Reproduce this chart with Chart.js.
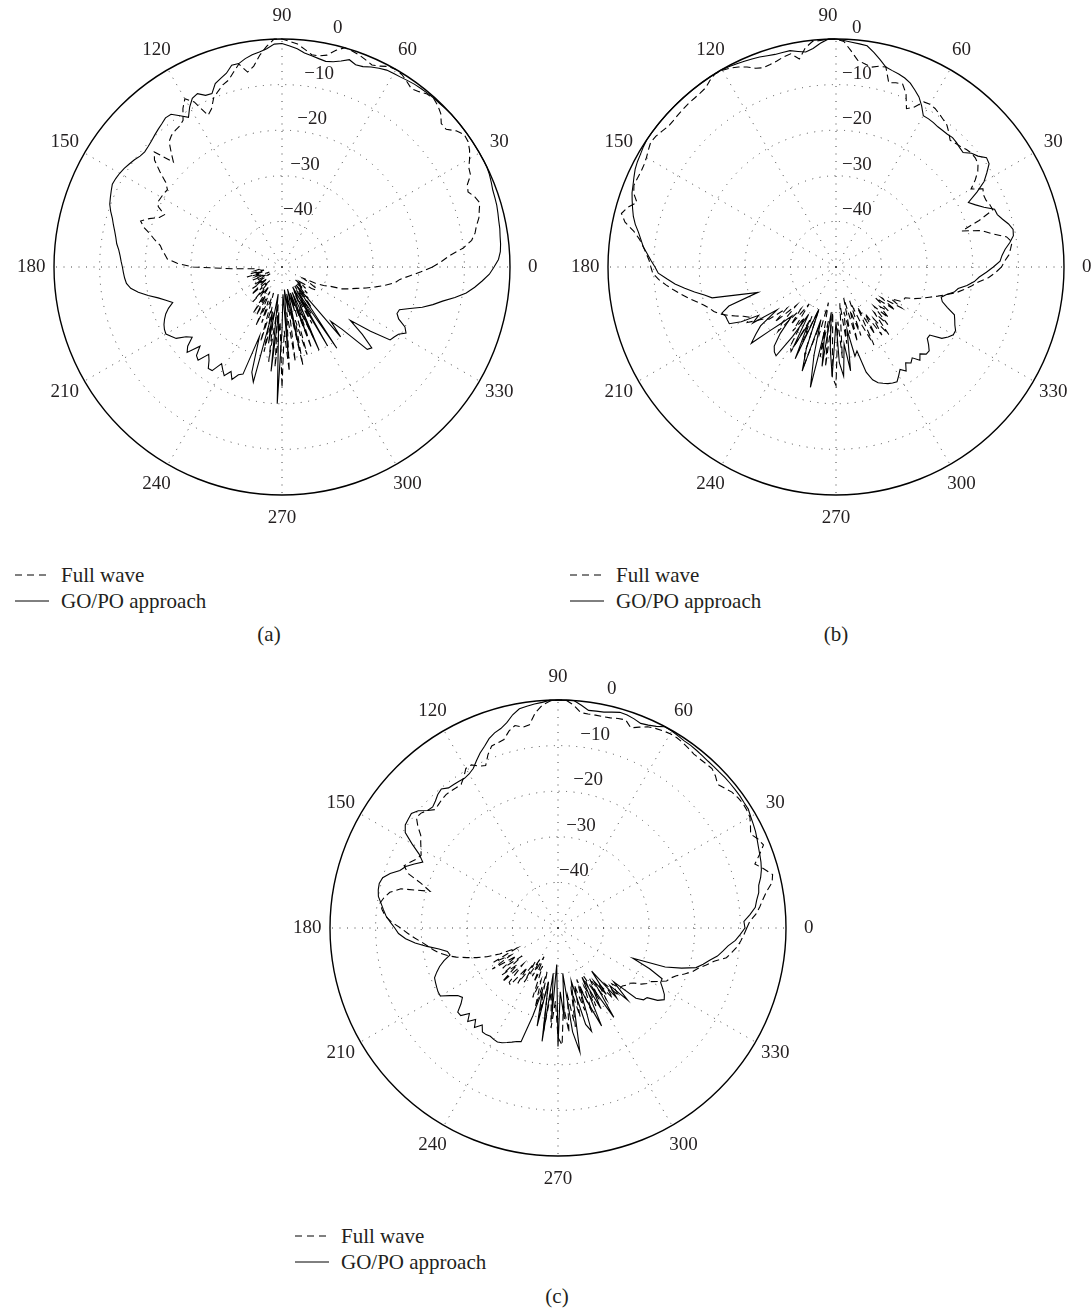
<!DOCTYPE html>
<html>
<head>
<meta charset="utf-8">
<script src="https://cdn.jsdelivr.net/npm/chart.js@4.4.0/dist/chart.umd.min.js"></script>
<style>
  html, body { margin: 0; padding: 0; background: #fff; }
  #page { position: relative; width: 1092px; height: 1314px; overflow: hidden;
          font-family: "Liberation Serif", "DejaVu Serif", serif; color: #231f20; }
  canvas { position: absolute; }
  .leg { position: absolute; font-size: 21px; line-height: 24px; white-space: nowrap; }
  .leg svg { position: absolute; left: 0; top: 7px; }
  .leg span { position: absolute; left: 46px; top: 0; }
  .cap { position: absolute; width: 60px; text-align: center; font-size: 21px; line-height: 24px; }
</style>
</head>
<body>
<div id="page">
  <canvas id="chartA" width="536" height="536" style="left:14px; top:-1px"></canvas>
  <canvas id="chartB" width="536" height="536" style="left:568px; top:-1px"></canvas>
  <canvas id="chartC" width="536" height="536" style="left:290px; top:660px"></canvas>

  <div class="leg" style="left:15px; top:563px; width:240px; height:60px">
    <svg width="34" height="10"><line x1="0" y1="5" x2="34" y2="5" stroke="#000" stroke-width="1" stroke-dasharray="7 5"/></svg>
    <span>Full wave</span>
    <svg width="34" height="10" style="top:33px"><line x1="0" y1="5" x2="34" y2="5" stroke="#000" stroke-width="1"/></svg>
    <span style="top:26px">GO/PO approach</span>
  </div>
  <div class="cap" style="left:239px; top:622px">(a)</div>

  <div class="leg" style="left:570px; top:563px; width:240px; height:60px">
    <svg width="34" height="10"><line x1="0" y1="5" x2="34" y2="5" stroke="#000" stroke-width="1" stroke-dasharray="7 5"/></svg>
    <span>Full wave</span>
    <svg width="34" height="10" style="top:33px"><line x1="0" y1="5" x2="34" y2="5" stroke="#000" stroke-width="1"/></svg>
    <span style="top:26px">GO/PO approach</span>
  </div>
  <div class="cap" style="left:806px; top:622px">(b)</div>

  <div class="leg" style="left:295px; top:1224px; width:240px; height:60px">
    <svg width="34" height="10"><line x1="0" y1="5" x2="34" y2="5" stroke="#000" stroke-width="1" stroke-dasharray="7 5"/></svg>
    <span>Full wave</span>
    <svg width="34" height="10" style="top:33px"><line x1="0" y1="5" x2="34" y2="5" stroke="#000" stroke-width="1"/></svg>
    <span style="top:26px">GO/PO approach</span>
  </div>
  <div class="cap" style="left:527px; top:1284px">(c)</div>
</div>

<script>
// angles in degrees (counter-clockwise from east), 2 degree steps
const angles = Array.from({ length: 180 }, (_, i) => i * 2);
const angleTicks = [0, 30, 60, 90, 120, 150, 180, 210, 240, 270, 300, 330];
const radialTicks = [-40, -30, -20, -10, 0];

// pattern (a), dB
const aFullWave = [
  -17, -15, -13, -10, -8, -7, -6.4, -5.5, -5, -4.4,
  -5, -6, -5.5, -4, -3.6, -2.5, -1.5, -0.8, -0.6, -1.5,
  -3, -3, -1.6, -0.8, -0.3, -0.5, -1.2, -1.7, -1, -0.3,
  0, -0.2, -1, -1.5, -1, -0.5, -0.2, 0, -1, -2.5,
  -3, -3, -2, -1, -0.5, 0, 0, -1.5, -3.3, -5.5,
  -6.6, -4.5, -6, -7.4, -8, -9, -10, -12, -13, -9,
  -7.4, -9, -11.2, -11.8, -12, -12.3, -13, -15, -16.9, -12.3,
  -13.5, -16, -18.5, -19.7, -19.5, -19.4, -19.3, -19.8, -21.8, -21,
  -19, -17.4, -18.5, -20.2, -21.5, -22.9, -23.5, -24.2, -24.8, -27,
  -30.5, -39, -44.5, -45, -44, -46, -43, -46, -42, -45,
  -44, -47, -43, -46, -44, -47, -43, -45, -42, -46,
  -44, -41, -45, -43, -46, -40, -44, -42, -45, -38,
  -43, -38, -44, -36, -42, -37, -44, -33, -41, -31,
  -40, -29, -42, -28, -38, -23.5, -36, -27, -40, -29,
  -42, -28, -38, -30, -43, -31, -40, -33, -44, -36,
  -42, -38, -45, -39, -43, -41, -45, -42, -46, -43,
  -45, -44, -42, -41, -41, -43, -44.7, -42, -40, -38.8,
  -36, -34.5, -33, -31, -29, -27, -25, -24, -22, -19.5
];
const aGoPo = [
  -3.5, -2.5, -2, -1.8, -1.7, -1.5, -1.4, -1.2, -1, -0.9,
  -0.8, -0.5, -0.2, 0, 0, 0, 0, 0, 0, 0,
  0, 0, -0.1, -0.2, -0.2, -0.3, -0.4, -0.5, -0.7, -0.9,
  -1, -1.1, -1.5, -2, -2.6, -2.8, -2.2, -3, -3.6, -3.9,
  -3.6, -3.2, -2.8, -2, -1.5, -1, -1.1, -2, -2.6, -3,
  -3.6, -4.4, -4.4, -5.8, -6.5, -7.2, -9, -8.8, -7.7, -8.1,
  -9.5, -11.3, -10, -8.6, -8.5, -9, -9.4, -9.8, -10.2, -10.5,
  -10.7, -10.5, -10, -9.6, -9.2, -8.9, -8.7, -8.6, -9, -9.4,
  -9.8, -10.5, -11.3, -11.9, -12.5, -13, -13.4, -14, -14.4, -14.7,
  -15, -15.2, -15.4, -15.7, -16.5, -18, -20, -22, -23.5, -24.8,
  -23.5, -22.5, -21.8, -21.2, -20.8, -20.6, -21.3, -22, -24, -25,
  -23, -22, -25, -23, -22.5, -25, -24, -22.5, -22.6, -25,
  -24, -23, -24.5, -23, -24.5, -25, -34, -26, -24, -40,
  -33, -44, -27, -40, -20, -36, -44, -30, -45, -40,
  -44, -32, -45, -40, -44, -35, -44, -30, -42, -45,
  -30, -44, -28.5, -42, -45, -30, -34, -31, -24, -23.5,
  -27, -31, -26, -21.4, -21, -20.5, -19.2, -20, -22, -22.8,
  -22.6, -20.5, -18, -15.9, -14, -11.5, -9.2, -7.5, -6, -4.5
];

// pattern (b), dB
const bFullWave = [
  -13.7, -13, -12, -11.5, -11, -12, -15, -17, -21.3, -17,
  -13.4, -13.6, -14, -14, -13.5, -15.8, -14, -12.5, -11.5, -11.2,
  -11.2, -11.5, -12, -12.3, -12.6, -11.5, -10.5, -10, -9.5, -9,
  -8.8, -9, -11, -12, -9, -7.3, -7.5, -8, -4.8, -5,
  -5.5, -5, -4.4, -2.5, -0.5, 0, 0, -0.2, -0.3, -1.5,
  -3.7, -2.2, -2.5, -3, -3.3, -3.5, -3, -2, -1.2, -0.6,
  -0.2, 0, -0.6, -1.4, -1.6, -1.7, -1.7, -1.8, -1.9, -2,
  -2, -1.6, -1.2, -1, -1.5, -2, -2.3, -2.4, -2.3, -2.2,
  -2.8, -4.1, -2.5, -1.5, -2.7, -5, -6.5, -7.5, -8.3, -9,
  -9.4, -9.8, -11, -12.5, -14, -15.5, -17, -18.5, -19.8, -20.8,
  -21.5, -22.5, -24, -25.5, -27, -28, -27, -29, -30.8, -31.4,
  -36, -32, -38, -33, -31, -38, -34, -40, -33, -37,
  -30, -29, -38, -32, -40, -30, -27.5, -36, -34.6, -42,
  -30, -38, -28, -40, -26, -24, -38, -30, -42, -33,
  -40, -35, -43, -32.9, -40, -34, -42, -36, -31, -40,
  -33, -38, -32, -36, -31.2, -37, -33, -38, -34, -37,
  -35, -39, -34, -38, -33, -36, -34, -33.5, -33.4, -31.5,
  -30, -28.5, -26.8, -25, -23, -21.5, -20, -18.6, -16.5, -15
];
const bGoPo = [
  -15.5, -14, -13.5, -12.7, -11.5, -10.5, -10.3, -11, -12, -12.8,
  -13, -15, -16.5, -17.7, -15, -12.5, -11, -9.5, -9.2, -10.5,
  -11.2, -12.5, -12.3, -12, -11.8, -12, -12, -12, -11.8, -11.7,
  -11.7, -10, -8.5, -7.5, -6.5, -5.9, -5.5, -5.2, -4.8, -3.5,
  -2.2, -1, -0.8, -0.6, -0.3, 0, 0, -0.8, -1.8, -2.4,
  -2, -1.5, -1.5, -1.5, -1.3, -1, -0.8, -0.6, -0.4, -0.2,
  0, 0, 0, 0, 0, 0, 0, 0, 0, 0,
  0, 0, 0, 0, -0.2, -0.5, -0.7, -1, -1.5, -2,
  -2.4, -3, -3.6, -4.2, -5, -6, -6.8, -7.5, -8.5, -9.4,
  -10.3, -11, -12.8, -14.5, -16.5, -18.5, -20.5, -22, -28, -32,
  -25, -23, -23.5, -23.5, -23.5, -26, -30, -28, -34, -29,
  -27, -25, -30, -33, -35.5, -31, -28, -27, -26.5, -32,
  -38, -30, -36, -28, -40, -31, -26, -38, -30, -23,
  -36, -28, -40, -32, -26, -38, -29, -26, -33, -27,
  -36, -30, -31, -26, -24, -23, -22.5, -22, -21.7, -21.5,
  -22.5, -23.5, -22.5, -24, -23.3, -24, -22.5, -23.5, -22.5, -22.5,
  -23.5, -24.6, -24.6, -22, -21, -20.3, -20.3, -21, -21.5, -22,
  -24, -25.5, -26, -25, -23.5, -22.8, -21, -19.5, -18.5, -17
];

// pattern (c), dB
const cFullWave = [
  -8.6, -7.9, -6.5, -5.5, -4.6, -3.5, -2, -1.5, -3, -4.6,
  -3, -1.4, -2, -3, -2.2, -1.4, -1.2, -1.1, -1.3, -1.6,
  -2.3, -2.9, -2, -1.4, -1.5, -1.6, -1.6, -1.3, -1, -0.8,
  -0.8, -1, -1.3, -1.7, -2.5, -3.3, -2, -2.2, -2.5, -2.6,
  -2.6, -2.6, -2.5, -1, 0, 0, -0.2, -1, -2.5, -5,
  -5.3, -4.6, -5.5, -7, -7.3, -7.5, -9, -11, -10.5, -9.5,
  -9.6, -11, -12, -12, -11.9, -11.8, -12, -12.3, -12.6, -11.5,
  -10.8, -10.6, -12, -13.7, -14.5, -15.3, -16, -15.5, -14.5, -13.6,
  -15, -18.5, -20.8, -14.5, -12.3, -11.3, -10.6, -11.2, -12, -13.5,
  -15.5, -17, -18.5, -20, -21.2, -22.3, -23.5, -25, -26.8, -29,
  -31, -33.2, -36, -40, -34, -38, -33, -39, -35, -40,
  -34, -38, -33, -39, -34, -33.7, -39, -35, -41, -36,
  -42, -38, -43, -37, -41, -33.8, -38, -32, -40, -30,
  -38, -27, -36, -28, -34, -26, -24.3, -33, -27, -35,
  -28, -36, -30, -37, -31, -38, -30, -36, -31, -38,
  -32, -37, -31, -35, -30.5, -34, -30, -33, -31, -31,
  -30.5, -30.3, -29.5, -28, -27, -26.5, -25, -23.5, -23, -22,
  -20.5, -19, -18, -16.5, -15, -12.5, -11.5, -10.5, -9.8, -9.2
];
const cGoPo = [
  -9, -9.2, -7.8, -6.5, -6, -5.3, -5, -4.2, -3.6, -3.2,
  -2.9, -2.6, -2.2, -1.8, -1.5, -1.2, -0.8, -0.8, -0.7, -0.7,
  -0.7, -0.7, -0.8, -0.8, -0.8, -0.7, -0.6, -0.5, -0.5, -0.3,
  -0.1, 0, -0.8, -1.3, -1.6, -1.2, -0.9, -0.8, -1.2, -1.6,
  -1.7, -1.8, -0.9, 0, 0, 0, 0, -0.4, -0.6, -0.9,
  -1.2, -2.2, -3.6, -4.5, -5, -5.8, -7, -8, -9.2, -10.4,
  -11, -11.3, -11.2, -11.1, -11, -10.2, -10.6, -11.3, -11.8, -11.5,
  -10, -9.2, -9.4, -9.6, -10.5, -13, -15.5, -17, -15.5, -14,
  -13.1, -11.3, -10, -9.6, -9.7, -10, -10.8, -11.5, -12.2, -13.2,
  -14.2, -15, -16.5, -18.5, -21, -23.5, -25.2, -25.6, -24, -22.7,
  -21.7, -20.8, -20.6, -20.4, -20.2, -20.2, -22, -23.5, -24.1, -23,
  -21.3, -21.3, -23, -21.5, -23, -21.5, -23, -21.8, -21.8, -22,
  -21.8, -21.7, -22, -22.5, -23, -23.5, -23.8, -30, -36, -28,
  -38, -24.9, -40, -30, -42, -24, -36, -30, -40, -27,
  -22.4, -34, -38, -28, -26.2, -36, -32, -26.5, -38, -30,
  -35, -26.9, -36, -32, -38, -30, -33, -28, -33, -27,
  -25.5, -25.2, -23, -21.9, -22.5, -23.5, -24.5, -24.6, -28, -32.3,
  -25, -21.5, -18.5, -17.2, -16, -14.5, -13.5, -12.5, -11, -10
];

// radar runs clockwise from the top; with startAngle 90 and reversed order
// index i sits at angle (360 - 2i) mod 360, i.e. counter-clockwise from east
const N = angles.length;
const order = angles.map((_, i) => (N - i) % N);
const chartLabels = order.map(k => angles[k]);
const reorder = vals => order.map(k => vals[k]);

const fmtTick = v => (v < 0 ? "\u2212" + Math.abs(v) : String(v));

const polarLabels = {
  id: "polarLabels",
  afterDraw(chart, args, opts) {
    const r = chart.scales.r;
    const ctx = chart.ctx;
    ctx.save();
    ctx.fillStyle = "#231f20";
    ctx.font = '19px "Liberation Serif", serif';
    ctx.textAlign = "center";
    ctx.textBaseline = "middle";
    angleTicks.forEach(a => {
      const i = chartLabels.indexOf(a);
      const p = r.getPointPosition(i, r.drawingArea * 1.1);
      ctx.fillText(String(a), p.x + (a === 90 ? opts.topDx : 0), p.y);
    });
    ctx.textAlign = "left";
    ctx.textBaseline = "alphabetic";
    radialTicks.forEach(v => {
      const d = r.getDistanceFromCenterForValue(v);
      let x;
      if (v === 0) {
        x = r.xCenter + opts.zeroDx;
      } else if (opts.slant) {
        x = r.xCenter - 6 + 0.155 * d;
      } else {
        x = r.xCenter + 6;
      }
      ctx.fillText(fmtTick(v), x, r.yCenter - d - 6);
    });
    ctx.restore();
  }
};

function makePolar(id, fullWave, goPo, labelOpts) {
  return new Chart(document.getElementById(id), {
    type: "radar",
    data: {
      labels: chartLabels,
      datasets: [
        {
          label: "Full wave",
          data: reorder(fullWave),
          borderColor: "#000",
          borderWidth: 1.1,
          borderDash: [7, 4],
          fill: false
        },
        {
          label: "GO/PO approach",
          data: reorder(goPo),
          borderColor: "#000",
          borderWidth: 1.1,
          fill: false
        }
      ]
    },
    options: {
      responsive: false,
      animation: false,
      events: [],
      layout: { padding: 40 },
      elements: {
        point: { radius: 0, hitRadius: 0 },
        line: { tension: 0 }
      },
      plugins: {
        legend: { display: false },
        tooltip: { enabled: false },
        polarLabels: labelOpts
      },
      scales: {
        r: {
          min: -50,
          max: 0,
          startAngle: 90,
          ticks: { display: false, stepSize: 10 },
          pointLabels: { display: false },
          grid: {
            circular: true,
            color: ctx => (ctx.tick && ctx.tick.value === 0 ? "#000" : "#444"),
            lineWidth: ctx => (ctx.tick && ctx.tick.value === 0 ? 1.4 : 1)
          },
          border: {
            dash: ctx => (ctx.tick && ctx.tick.value === 0 ? [] : [1, 6.5])
          },
          angleLines: {
            color: "#444",
            lineWidth: ctx => (angleTicks.includes(chartLabels[ctx.index]) ? 1 : 0),
            borderDash: [1, 6.5]
          }
        }
      }
    },
    plugins: [polarLabels]
  });
}

makePolar("chartA", aFullWave, aGoPo, { slant: true, zeroDx: 51, topDx: 0 });
makePolar("chartB", bFullWave, bGoPo, { slant: false, zeroDx: 16, topDx: -8 });
makePolar("chartC", cFullWave, cGoPo, { slant: true, zeroDx: 49, topDx: 0 });
</script>
</body>
</html>
